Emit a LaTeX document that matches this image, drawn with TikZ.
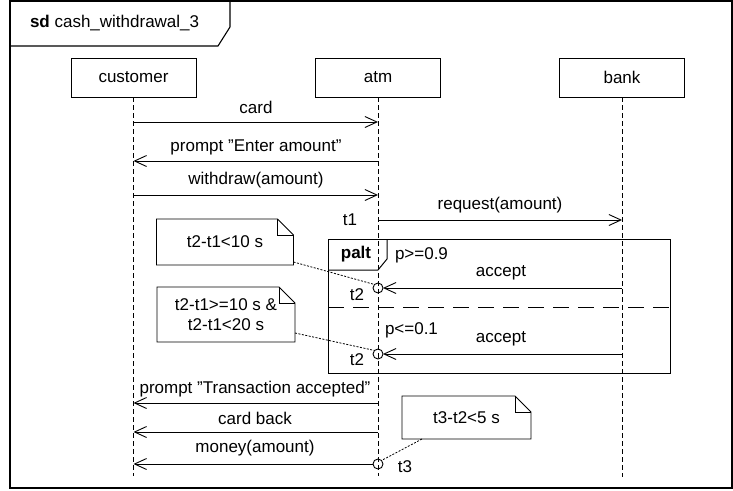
\documentclass[tikz,border=0pt]{standalone}
\usepackage{fontspec}
\setmainfont{Liberation Sans}
\usetikzlibrary{arrows.meta,calc}
\newcommand{\notefold}[1]{%
  \draw[noteline] (#1.north west) -- ([xshift=-16pt]#1.north east) -- ([yshift=-16pt]#1.north east) -- (#1.south east) -- (#1.south west) -- cycle;
  \draw[noteline] ([xshift=-16pt]#1.north east) -- ([xshift=-16pt,yshift=-16pt]#1.north east) -- ([yshift=-16pt]#1.north east);}
\begin{document}
\begin{tikzpicture}[x=1pt,y=-1pt,
  font=\fontsize{17}{21}\selectfont,
  every node/.style={inner sep=0pt, outer sep=0pt},
  head/.style={draw, line width=0.9pt, minimum width=125pt, minimum height=39pt},
  life/.style={line width=0.9pt, dash pattern=on 5pt off 3pt},
  msg/.style={line width=0.9pt, -{Straight Barb[length=12pt,width=11pt,line width=0.9pt]}},
  occ/.style={circle, draw, line width=0.9pt, minimum size=10pt},
  noteline/.style={line width=0.9pt},
  notebox/.style={align=center, minimum width=137pt},
  anchorline/.style={line width=0.8pt, dash pattern=on 2pt off 1.5pt},
  frameline/.style={line width=1.1pt},
  sepline/.style={line width=1pt, dash pattern=on 16pt off 9pt},
  lbl/.style={anchor=center}
]
\useasboundingbox (0,0) rectangle (733,490);
% outer frame
\draw[frameline] (10,1) rectangle (732,488);
\draw[frameline] (10,46) -- (218,46) -- (230,27) -- (230,1);
\node[anchor=west] (title) at (30,23) {\textbf{sd} cash\_withdrawal\_3};

% lifeline heads
\node[head] (customer) at (133.5,77.5) {customer};
\node[head] (atm) at (378,77.5) {atm};
\node[head] (bank) at (622,77.5) {bank};
\coordinate (customerEnd) at (133.5,476);
\coordinate (atmEnd) at (378,476);
\coordinate (bankEnd) at (622,477);
\draw[life] (customer.south) -- (customerEnd);
\draw[life] (atm.south) -- (atmEnd);
\draw[life] (bank.south) -- (bankEnd);

% messages
\draw[msg] (customer.center |- 0,122) -- (atm.center |- 0,122);
\node[lbl] (mcard) at (256,107) {card};
\draw[msg] (atm.center |- 0,161) -- (customer.center |- 0,161);
\node[lbl] (mprompt) at (256,147) {prompt ”Enter amount”};
\draw[msg] (customer.center |- 0,195) -- (atm.center |- 0,195);
\node[lbl] (mwithdraw) at (256,180) {withdraw(amount)};
\draw[msg] (atm.center |- 0,220) -- (bank.center |- 0,220);
\node[lbl] (mrequest) at (500,205) {request(amount)};
\node[lbl] (t1) at (350,220) {t1};

% palt fragment
\draw[line width=1pt] (328,239) rectangle (670,373);
\draw[line width=1pt] (328,270) -- (378,270) -- (387,259) -- (387,239);
\node[lbl] (palt) at (356,254) {\textbf{palt}};
\node[anchor=west] (g1) at (395,255) {p>=0.9};
\draw[sepline] (328,307) -- (670,307);
\node[anchor=west] (g2) at (385,330) {p<=0.1};

\node[occ] (o1) at (atm.center |- 0,288) {};
\draw[msg] (bank.center |- o1) -- (o1.east);
\node[lbl] (acc1) at (501,273) {accept};
\node[lbl] (t2a) at (357,295) {t2};

\node[occ] (o2) at (atm.center |- 0,354) {};
\draw[msg] (bank.center |- o2) -- (o2.east);
\node[lbl] (acc2) at (501,339) {accept};
\node[lbl] (t2b) at (357,360) {t2};

% notes
\node[notebox, minimum height=46pt] (n1) at (225,242) {t2-t1<10 s};
\notefold{n1}
\node[notebox, minimum height=55pt, minimum width=138pt] (n2) at (226,314.5) {t2-t1>=10 s \&\\[-1pt]t2-t1<20 s};
\notefold{n2}
\draw[anchorline] ([yshift=3pt]n1.south east) -- (o1.north west);
\draw[anchorline] ([yshift=9pt]n2.south east) -- (o2.north west);

% closing messages
\draw[msg] (atm.center |- 0,403) -- (customer.center |- 0,403);
\node[lbl] (mprompt2) at (255,389) {prompt ”Transaction accepted”};
\draw[msg] (atm.center |- 0,432) -- (customer.center |- 0,432);
\node[lbl] (mcardback) at (255,418) {card back};
\node[occ] (o3) at (atm.center |- 0,464) {};
\draw[msg] (o3.west) -- (customer.center |- o3);
\node[lbl] (mmoney) at (255,448) {money(amount)};
\node[lbl] (t3) at (405,467) {t3};

\node[notebox, minimum height=43pt, minimum width=129pt] (n3) at (466.5,417.5) {t3-t2<5 s};
\notefold{n3}
\draw[anchorline] ([xshift=20pt]n3.south west) -- (o3.north east);
\end{tikzpicture}
\end{document}
